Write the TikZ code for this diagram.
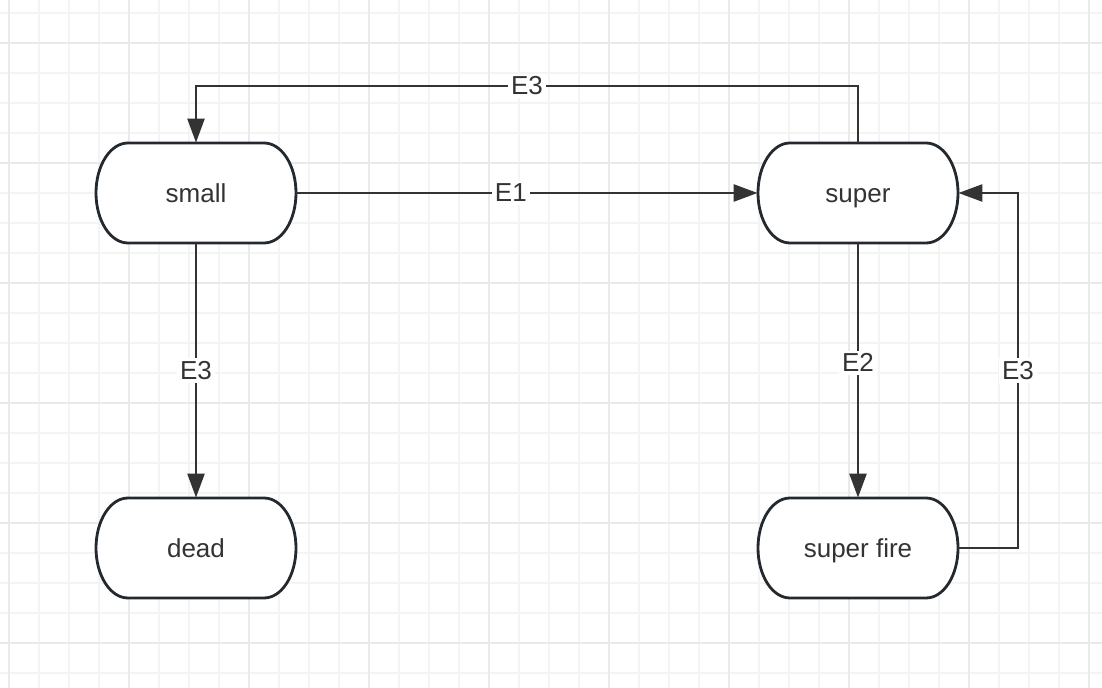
\documentclass[tikz,border=0pt]{standalone}
\usepackage{fontspec}
\setmainfont{Liberation Sans}
\usepackage{tikz}
\usetikzlibrary{arrows.meta}
\usetikzlibrary{calc}
\definecolor{linegray}{HTML}{333333}
\definecolor{boxline}{HTML}{23292E}
\definecolor{minorgrid}{HTML}{F4F4F4}
\definecolor{majorgrid}{HTML}{EAEAEA}

\begin{document}
\begin{tikzpicture}[x=0.5pt, y=-0.5pt,
    statebox/.style={minimum width=100pt, minimum height=50pt, inner sep=0pt, text height=9.8pt, text depth=0pt, text=linegray, font=\fontsize{13}{15}\selectfont},
    stateline/.style={draw=boxline, line width=1.4pt, fill=white},
    edge/.style={draw=linegray, line width=1.25pt, -{Triangle[length=12pt,width=8.5pt]}},
    lbl/.style={fill=white, text=linegray, inner sep=1.5pt, font=\fontsize{13}{15}\selectfont}]
    \useasboundingbox[fill=white] (0,0) rectangle (1102,688);
    % grid
    \foreach \gx in {9,39,...,1101} \draw[minorgrid, line width=0.8pt] (\gx,0) -- (\gx,688);
    \foreach \gy in {13,43,...,673} \draw[minorgrid, line width=0.8pt] (0,\gy) -- (1102,\gy);
    \foreach \gx in {9,129,...,1089} \draw[majorgrid, line width=0.8pt] (\gx,0) -- (\gx,688);
    \foreach \gy in {43,163,...,643} \draw[majorgrid, line width=0.8pt] (0,\gy) -- (1102,\gy);
    % states
    \foreach \nm/\x/\y/\txt in {small/196/193/small, super/858/193/super, dead/196/548/dead, superfire/858/548/super fire} {
        \draw[stateline] (\x-68,\y-50) -- (\x+68,\y-50) arc[start angle=90, end angle=-90, x radius=16pt, y radius=25pt]
            -- (\x-68,\y+50) arc[start angle=270, end angle=90, x radius=16pt, y radius=25pt] -- cycle;
        \node[statebox] (\nm) at (\x,\y) {\txt};
    }
    % transitions
    \draw[edge] (small) -- node[lbl, pos=0.465] {E1} (super);
    \coordinate (smalltop) at (196,86);
    \draw[edge] (super.north) |- node[lbl, pos=0.75] {E3} (smalltop) -- (small.north);
    \draw[edge] (small) -- node[lbl] {E3} (dead);
    \draw[edge] (super) -- node[lbl, pos=0.47] {E2} (superfire);
    \coordinate (firecorner) at (1018,548);
    \draw[edge] (superfire.east) -- (firecorner) |- node[lbl, pos=0.25] {E3} (super.east);
\end{tikzpicture}
\end{document}
